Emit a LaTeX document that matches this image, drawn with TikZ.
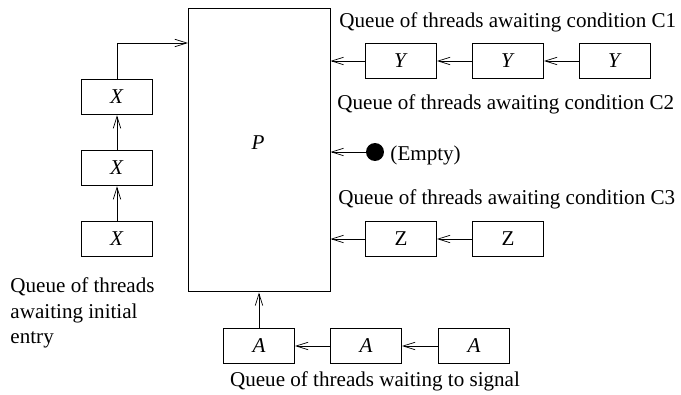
\documentclass[tikz,border=0pt]{standalone}
\usepackage{fontspec}
\setmainfont{Liberation Serif}
\usetikzlibrary{arrows.meta}

\begin{document}
\begin{tikzpicture}[x=0.02cm, y=-0.02cm,
    >={Straight Barb[length=2.4mm,width=1.5mm,line width=0.4pt]}, line width=0.55pt,
    font=\fontsize{12}{14.6}\selectfont,
    thr/.style ={draw, minimum width=1.42cm, minimum height=0.71cm, inner sep=0pt},
    mon/.style ={draw, minimum width=2.84cm, minimum height=5.68cm, inner sep=0pt},
    txt/.style ={inner sep=0pt, anchor=west},
    dot/.style ={circle, fill=black, minimum size=0.36cm, inner sep=0pt},
  ]
  \useasboundingbox (0,0) rectangle (681,395);

  % --- monitor ---
  \node[mon] (mon) at (259,150) {};
  \node (pname) at (258,143) {\textit{P}};

  % --- entry queue ---
  \node[thr] (x1) at (117,97)  {\textit{X}};
  \node[thr] (x2) at (117,168) {\textit{X}};
  \node[thr] (x3) at (117,239) {\textit{X}};
  \coordinate (entry) at (188,43);
  \draw[->] (x1.north) |- (entry);
  \draw[->] (x2.north) -- (x1.south);
  \draw[->] (x3.north) -- (x2.south);
  \node[txt, align=left] (qentry) at (10,313) {Queue of threads\\awaiting initial\\entry};

  % --- condition C1 ---
  \node[txt] (qc1) at (339,22) {Queue of threads awaiting condition C1};
  \node[thr] (y1) at (401,61) {\textit{Y}};
  \node[thr] (y2) at (508,61) {\textit{Y}};
  \node[thr] (y3) at (615,61) {\textit{Y}};
  \draw[->] (y1.west) -- (y1.west -| mon.east);
  \draw[->] (y2.west) -- (y1.east);
  \draw[->] (y3.west) -- (y2.east);

  % --- condition C2 ---
  \node[txt] (qc2) at (337,104) {Queue of threads awaiting condition C2};
  \node[dot] (nil) at (375,152) {};
  \node[txt] (empty) at (390,155) {(Empty)};
  \draw[->] (nil) -- (nil -| mon.east);

  % --- condition C3 ---
  \node[txt] (qc3) at (338,199) {Queue of threads awaiting condition C3};
  \node[thr] (z1) at (401,239) {Z};
  \node[thr] (z2) at (508,239) {Z};
  \draw[->] (z1.west) -- (z1.west -| mon.east);
  \draw[->] (z2.west) -- (z1.east);

  % --- signal queue ---
  \node[thr] (a1) at (259,346) {\textit{A}};
  \node[thr] (a2) at (366,346) {\textit{A}};
  \node[thr] (a3) at (474,346) {\textit{A}};
  \draw[->] (a1.north) -- (a1.north |- mon.south);
  \draw[->] (a2.west) -- (a1.east);
  \draw[->] (a3.west) -- (a2.east);
  \node (qsig) at (375,381) {Queue of threads waiting to signal};
\end{tikzpicture}
\end{document}
